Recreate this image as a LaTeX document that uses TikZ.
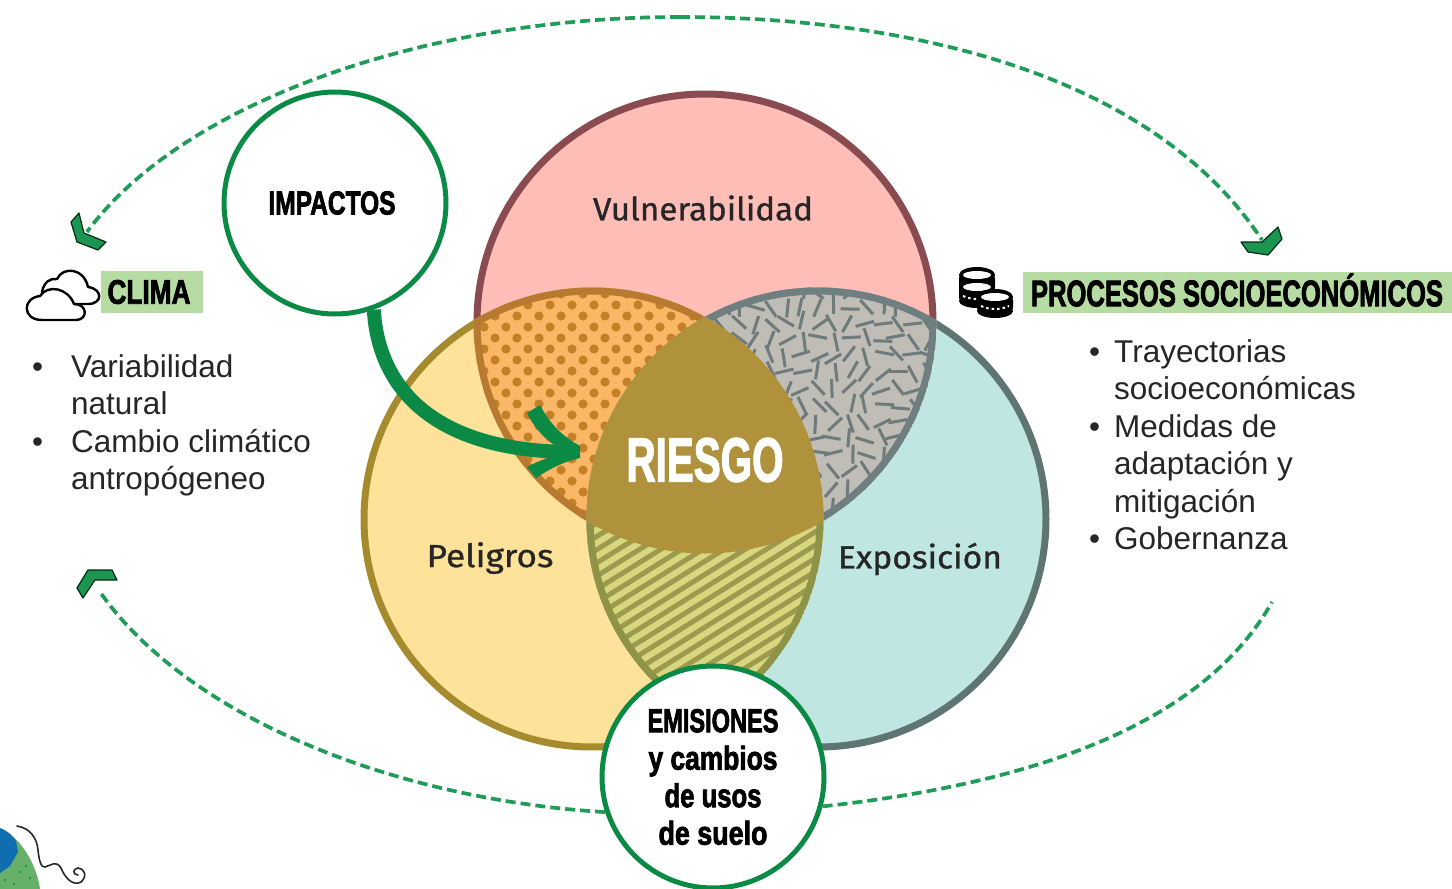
\documentclass[tikz,border=0pt]{standalone}
\usepackage{graphicx}
\usepackage{fontspec}
\setmainfont{Liberation Sans}
\newfontfamily\heavyf[FakeBold=2.6]{Liberation Sans}
\newfontfamily\labelf[FakeBold=0.9]{Fira Sans}
\newcommand\hv[1]{\heavyf\bfseries\fontsize{#1}{37.5}\selectfont}
\newcommand\fitw[2]{\resizebox{#1pt}{\height}{#2}}
\definecolor{gr}{HTML}{0B8A46}
\definecolor{dashg}{HTML}{1F9C58}
\definecolor{chevf}{HTML}{1A9650}
\definecolor{lightg}{HTML}{B6DCA3}
\definecolor{pinkf}{HTML}{FFBDB8}
\definecolor{pinke}{HTML}{8A4B50}
\definecolor{yelf}{HTML}{FFE29A}
\definecolor{yele}{HTML}{A68A2E}
\definecolor{teaf}{HTML}{BFE6E0}
\definecolor{teae}{HTML}{5F7573}
\definecolor{oraf}{HTML}{FBB666}
\definecolor{orad}{HTML}{C47F27}
\definecolor{orae}{HTML}{B87A30}
\definecolor{greyf}{HTML}{BFBDB6}
\definecolor{greyd}{HTML}{6F7A7A}
\definecolor{greye}{HTML}{6F7F80}
\definecolor{goldf}{HTML}{B0923C}
\definecolor{hatf}{HTML}{D9D77E}
\definecolor{hatd}{HTML}{9C9A4E}
\definecolor{hate}{HTML}{8F9348}
\definecolor{globeg}{HTML}{66B06A}
\definecolor{globeb}{HTML}{0F6DB0}
\tikzset{
 bigc/.style={circle,draw=gr,line width=5pt,fill=white,minimum size=222pt,inner sep=0pt,align=center},
 chev/.style={fill=chevf,draw=black!70!gr,line width=1.2pt,line join=round},
 cyc/.style={dashg,line width=3.7pt,dash pattern=on 10pt off 5pt},
 bodyt/.style={anchor=north west,inner sep=0pt,align=left,font=\fontsize{31.5}{37.5}\selectfont,text=black!85},
 lab/.style={inner sep=0pt,text=black!85},
 bgbox/.style={fill=lightg,inner sep=0pt},
 iconl/.style={draw=black,line width=2.4pt,line join=round,fill=white}
}
\newcommand\cV[1]{(705,322) circle [radius=#1]}
\newcommand\cP[1]{(592,519) circle [radius=#1]}
\newcommand\cE[1]{(818,519) circle [radius=#1]}
\newcommand\coin[3]{% x, y top, rx
 \fill[black,rounded corners=3pt] (#1-#3-3,#2) rectangle (#1+#3+3,#2+14);
 \fill[black] (#1,#2) ellipse [x radius=#3+3,y radius=8];
 \fill[black] (#1,#2+14) ellipse [x radius=#3+3,y radius=7];
 \fill[white] (#1,#2) ellipse [x radius=#3-1,y radius=4];
 \draw[white,line width=2pt,dash pattern=on 2.5pt off 3pt] (#1-#3+1,#2+9) .. controls (#1-6,#2+13) and (#1+6,#2+13) .. (#1+#3-1,#2+9);
}
\begin{document}
\begin{tikzpicture}[x=1pt,y=-1pt]
\useasboundingbox (0,0) rectangle (1452,889);
% main circles
\filldraw[fill=pinkf,draw=pinke,line width=7pt] \cV{228};
\filldraw[fill=yelf,draw=yele,line width=7pt] \cP{228};
\filldraw[fill=teaf,draw=teae,line width=7pt] \cE{228};
% vulnerabilidad x peligros
\begin{scope}
\clip \cV{231.5};\clip \cP{231.5};
\fill[oraf] (450,280) rectangle (730,560);
\foreach \r in {0,...,24}{
 \pgfmathtruncatemacro\odd{mod(\r,2)}
 \foreach \c in {0,...,13}{
  \fill[orad] ({473+\c*22+\odd*11},{294+\r*11}) circle [radius=4.6];
 }}
\draw[orae,line width=7pt] \cV{228};
\draw[orae,line width=7pt] \cP{228};
\end{scope}
% vulnerabilidad x exposicion
\begin{scope}
\clip \cV{231.5};\clip \cE{231.5};
\fill[greyf] (680,280) rectangle (960,560);
\pgfmathsetseed{11}
\foreach \r in {0,...,15}{
 \foreach \c in {0,...,16}{
  \pgfmathsetmacro\ang{random(0,180)}
  \pgfmathsetmacro\xx{690+\c*16+rand*3}
  \pgfmathsetmacro\yy{290+\r*16.5+rand*3}
  \draw[greyd,line width=3pt] ({\xx-9.5*cos(\ang)},{\yy-9.5*sin(\ang)}) -- ({\xx+9.5*cos(\ang)},{\yy+9.5*sin(\ang)});
 }}
\draw[greye,line width=7pt] \cV{228};
\draw[greye,line width=7pt] \cE{228};
\end{scope}
% peligros x exposicion
\begin{scope}
\clip \cP{231.5};\clip \cE{231.5};
\fill[hatf] (570,300) rectangle (850,760);
\foreach \k in {0,...,34}{
 \draw[hatd,line width=5pt] (570,{540+\k*13.2}) -- (850,{540+\k*13.2-175});
}
\draw[hate,line width=7pt] \cP{228};
\draw[hate,line width=7pt] \cE{228};
\end{scope}
% riesgo
\begin{scope}
\clip \cV{231.5};\clip \cP{231.5};\clip \cE{231.5};
\fill[goldf] (560,290) rectangle (850,570);
\end{scope}
% coordinates
\coordinate (topL) at (87,232);
\coordinate (topM) at (680,17);
\coordinate (topR) at (1262,240);
\coordinate (botL) at (100,592);
\coordinate (botR) at (1272,602);
% highlighted boxes
\node[bgbox,minimum width=102pt,minimum height=42pt] (climabg) at (152,292) {};
\node[bgbox,minimum width=429pt,minimum height=41pt] (procbg) at (1237.5,292.5) {};
% big circles
\node[bigc,font=\hv{33}] (impact) at (335,203) {\hspace*{-6pt}\fitw{127}{IMPACTOS}};
\node[bigc,font=\hv{33}] (emis) at (713,777) {\fitw{131}{EMISIONES}\\\fitw{129}{y cambios}\\\fitw{97}{de usos}\\\fitw{109}{de suelo}};
% cycle
\draw[cyc] (topM) .. controls (900,17) and (1150,70) .. (topR);
\draw[cyc] (topM) .. controls (420,17) and (180,105) .. (topL);
\draw[cyc] (emis.198) .. controls (400,800) and (190,720) .. (botL);
\draw[cyc] (emis.-15) .. controls (1020,785) and (1200,730) .. (botR);
% chevrons
\filldraw[chev] (79,213) -- (71,222) -- (77,242) -- (98,250) -- (106,242) -- (84,233) -- cycle;
\filldraw[chev] (1278,227) -- (1282,239) -- (1268,255) -- (1248,252) -- (1241,242) -- (1262,242) -- cycle;
\filldraw[chev] (88,570) -- (112,570) -- (117,580) -- (95,580) -- (83,598) -- (77,588) -- cycle;
% impact arrow
\coordinate (arrowend) at (568,452);
\draw[gr,line width=14pt] (impact.-70) .. controls (378,385) and (430,450) .. (arrowend);
\fill[gr] (527,413) -- (540,405) .. controls (550,424) and (562,436) .. (580,446) -- (580,458) .. controls (562,462) and (548,470) .. (536,478) -- (527,467) .. controls (538,461) and (548,458) .. (556,455) -- (556,446) .. controls (546,440) and (534,428) .. cycle;
% labels
\node[lab] (vuln) at (703,208) {\labelf\fontsize{32}{36}\selectfont\fitw{220}{Vulnerabilidad}};
\node[lab] (pelig) at (490,558) {\labelf\fontsize{32}{36}\selectfont\fitw{127}{Peligros}};
\node[lab] (expo) at (920,559) {\labelf\fontsize{32}{36}\selectfont\fitw{164}{Exposición}};
\node[inner sep=0pt,text=white] (riesgo) at (705,460) {\hv{62}\fitw{157}{RIESGO}};
% clima
\node[inner sep=0pt] (clima) at (149,292) {\hv{34}\fitw{83}{CLIMA}};
\node[inner sep=0pt] (proc) at (1237,290) {\hv{37}\fitw{412}{PROCESOS SOCIOECONÓMICOS}};
\node[bodyt] (climat) at (30,354) {\makebox[41pt][l]{\hspace{2pt}•}Variabilidad\\\hspace*{41pt}natural\\\makebox[41pt][l]{\hspace{2pt}•}Cambio climático\\\hspace*{41pt}antropógeneo};
\node[bodyt] (proct) at (1089,339) {\makebox[25pt][l]{•}Trayectorias\\\hspace*{25pt}socioeconómicas\\\makebox[25pt][l]{•}Medidas de\\\hspace*{25pt}adaptación y\\\hspace*{25pt}mitigación\\\makebox[25pt][l]{•}Gobernanza};
% cloud icon
\draw[iconl] (42,292) .. controls (44,282) and (50,278) .. (57,279) .. controls (63,266) and (84,268) .. (88,287) .. controls (103,289) and (103,304) .. (88,304) -- (60,304) -- cycle;
\draw[iconl] (42,320) .. controls (22,320) and (22,298) .. (40,296) .. controls (48,284) and (68,288) .. (74,304) .. controls (88,304) and (88,320) .. (76,320) -- cycle;
% coins icon
\coin{977}{275}{15}
\coin{977}{287}{15}
\coin{995}{297}{15}
% globe
\begin{scope}
\clip (0,780) rectangle (120,889);
\fill[globeg] (0,828) .. controls (20,836) and (37,865) .. (40,889) -- (0,889) -- cycle;
\fill[globeb] (0,828) .. controls (6,830) and (12,835) .. (16,841) -- (18,852) -- (10,866) -- (0,873) -- cycle;
\foreach \p in {(5,880),(14,884),(20,872),(26,866),(30,878)}{\fill[gr] \p circle [radius=1.2];}
\end{scope}
\draw[black!85,line width=1.6pt,line cap=round] (17,826) .. controls (30,828) and (37,838) .. (38,850) .. controls (39,860) and (41,868) .. (45,867) .. controls (52,865) and (56,860) .. (61,868) .. controls (66,880) and (74,886) .. (81,882) .. controls (88,876) and (84,868) .. (78,868) .. controls (72,869) and (73,875) .. (78,875);
\end{tikzpicture}
\end{document}
